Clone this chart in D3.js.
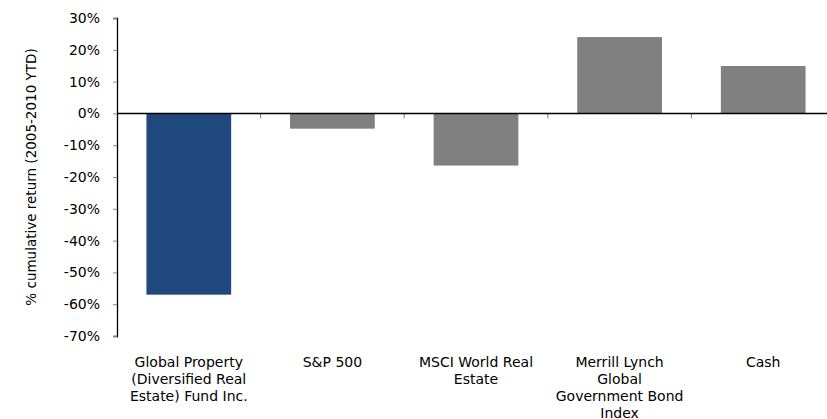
<!DOCTYPE html>
<html><head><meta charset="utf-8">
<script src="https://cdn.jsdelivr.net/npm/d3@7"></script>
<style>body{margin:0;background:#fff}svg{display:block}text{font-family:"DejaVu Sans",sans-serif;fill:#000}</style>
</head><body>
<svg id="c" width="827" height="419"></svg>
<script>
const categories = [
  ["Global Property", "(Diversified Real", "Estate) Fund Inc."],
  ["S&P 500"],
  ["MSCI World Real", "Estate"],
  ["Merrill Lynch", "Global", "Government Bond", "Index"],
  ["Cash"]
];
const values = [-57.0, -4.8, -16.4, 24.0, 14.9];
const colors = ["#1f497d", "#808080", "#808080", "#808080", "#808080"];
const yTicks = [30, 20, 10, 0, -10, -20, -30, -40, -50, -60, -70];
const yTitle = "% cumulative return (2005-2010 YTD)";

const svg = d3.select("#c");
const x = d3.scaleBand().domain(d3.range(categories.length)).range([117, 835]).paddingInner(0.41).paddingOuter(0.205);
const xb = d3.scaleBand().domain(d3.range(categories.length)).range([117, 835]);
const y = d3.scaleLinear().domain([-70, 30]).range([336, 18]);

svg.selectAll("rect.bar").data(values).join("rect")
  .attr("x", (d, i) => x(i)).attr("width", x.bandwidth())
  .attr("y", d => y(Math.max(0, d))).attr("height", d => Math.abs(y(d) - y(0)))
  .attr("fill", (d, i) => colors[i]);

// y axis
const ya = svg.append("g").attr("transform", "translate(117,0)")
  .call(d3.axisLeft(y).tickValues(yTicks).tickFormat(d => d + "%").tickSize(4).tickPadding(13));
ya.select(".domain").attr("stroke", "#000").attr("stroke-width", 1.3);
ya.selectAll(".tick line").attr("stroke", "#888");
ya.selectAll("text").style("font-size", "14px").attr("fill", "#000").attr("font-family", "DejaVu Sans");

// category ticks
svg.selectAll("line.ct").data(d3.range(1, categories.length)).join("line")
  .attr("x1", i => xb(i)).attr("x2", i => xb(i))
  .attr("y1", y(0)).attr("y2", y(0) + 5).attr("stroke", "#777").attr("stroke-width", 1);

// zero line
svg.append("line").attr("x1", 117).attr("x2", 827).attr("y1", y(0)).attr("y2", y(0))
  .attr("stroke", "#000").attr("stroke-width", 1.5);

// category labels
categories.forEach((lines, i) => {
  const t = svg.append("text").attr("text-anchor", "middle")
    .attr("x", xb(i) + xb.bandwidth() / 2).attr("y", 367).style("font-size", "14px");
  lines.forEach((l, j) => t.append("tspan").attr("x", xb(i) + xb.bandwidth() / 2).attr("dy", j ? 17 : 0).text(l));
});

svg.append("text").attr("transform", "translate(36,177) rotate(-90)").attr("text-anchor", "middle")
  .style("font-size", "13.5px").text(yTitle);
</script>
</body></html>
